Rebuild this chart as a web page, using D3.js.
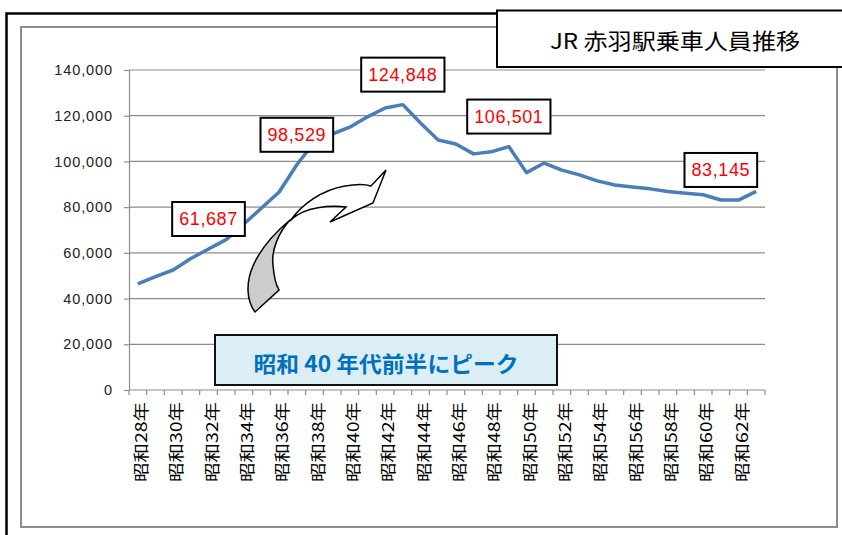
<!DOCTYPE html>
<html lang="ja">

<head>
    <meta charset="UTF-8">
    <title>JR 赤羽駅乗車人員推移</title>
    <script type="text/javascript" src="https://cdn.jsdelivr.net/npm/d3@7"></script>
    <style>
        body { margin: 0; background: #fff; }
    </style>
</head>

<body>
    <svg id="chart"></svg>
</body>

<script>
    // カテゴリ（昭和28年〜昭和63年）
    var categories = [
        "昭和28年", "昭和29年", "昭和30年", "昭和31年", "昭和32年", "昭和33年",
        "昭和34年", "昭和35年", "昭和36年", "昭和37年", "昭和38年", "昭和39年",
        "昭和40年", "昭和41年", "昭和42年", "昭和43年", "昭和44年", "昭和45年",
        "昭和46年", "昭和47年", "昭和48年", "昭和49年", "昭和50年", "昭和51年",
        "昭和52年", "昭和53年", "昭和54年", "昭和55年", "昭和56年", "昭和57年",
        "昭和58年", "昭和59年", "昭和60年", "昭和61年", "昭和62年", "昭和63年"
    ];

    // 乗車人員（1日平均）
    var riders = [
        46400, 49600, 52500, 57500, 61687, 65800,
        72600, 79600, 86600, 98529, 108500, 112000,
        115000, 119500, 123400, 124848, 116800, 109400,
        107600, 103300, 104200, 106501, 95100, 99300,
        96200, 94100, 91500, 89700, 88800, 88000,
        86800, 86100, 85400, 83145, 83100, 86900
    ];

    // 数値ラベルを付ける年
    var labeledYears = ["昭和32年", "昭和37年", "昭和43年", "昭和49年", "昭和61年"];

    // 目盛り
    var yTicks = [0, 20000, 40000, 60000, 80000, 100000, 120000, 140000];
    var xTickLabels = categories.filter(function (d, i) { return i % 2 === 0; });

    var title = "JR 赤羽駅乗車人員推移";
    var note = "昭和 40 年代前半にピーク";

    var width = 842, height = 535;
    var margin = { left: 129, right: 77, top: 70, bottom: 145 };

    var svg = d3.select("#chart")
        .attr("width", width)
        .attr("height", height)
        .style("font-family", "'Liberation Sans', Arial, sans-serif");

    // 外枠
    svg.append("rect")
        .attr("x", 6.5).attr("y", 13.5)
        .attr("width", 860).attr("height", 540)
        .attr("fill", "#fff")
        .attr("stroke", "#000").attr("stroke-width", 2.5);

    svg.append("rect")
        .attr("x", 21).attr("y", 27)
        .attr("width", 816).attr("height", 500)
        .attr("fill", "#fff")
        .attr("stroke", "#8c8c8c").attr("stroke-width", 2);

    // スケール
    var x = d3.scaleBand()
        .domain(categories)
        .range([margin.left, width - margin.right]);

    var y = d3.scaleLinear()
        .domain([0, 140000])
        .range([height - margin.bottom, margin.top]);

    var cx = function (d) { return x(d) + x.bandwidth() / 2; };

    // 目盛線
    svg.append("g")
        .selectAll("line")
        .data(yTicks.filter(function (d) { return d > 0; }))
        .enter()
        .append("line")
        .attr("x1", margin.left).attr("x2", width - margin.right)
        .attr("y1", function (d) { return y(d); })
        .attr("y2", function (d) { return y(d); })
        .attr("stroke", "#8c8c8c").attr("stroke-width", 1.2);

    // Y軸
    var yAxis = svg.append("g")
        .attr("transform", "translate(" + margin.left + ",0)")
        .call(d3.axisLeft(y).tickValues(yTicks).tickSize(5).tickPadding(11)
            .tickFormat(d3.format(",")));
    yAxis.selectAll("path, line").attr("stroke", "#8c8c8c").attr("stroke-width", 1.2);
    yAxis.selectAll("text")
        .attr("fill", "#222")
        .style("font-size", "14.5px")
        .style("letter-spacing", "0.9px")
        .style("font-family", "'Liberation Sans', Arial, sans-serif");

    // X軸（目盛りは各カテゴリの境界）
    var xBase = svg.append("g")
        .attr("transform", "translate(0," + (height - margin.bottom) + ")");
    xBase.append("line")
        .attr("x1", margin.left).attr("x2", width - margin.right)
        .attr("stroke", "#8c8c8c").attr("stroke-width", 1.2);
    xBase.selectAll(".tick")
        .data(categories.concat(["end"]))
        .enter()
        .append("line")
        .attr("class", "tick")
        .attr("x1", function (d, i) { return margin.left + i * x.bandwidth(); })
        .attr("x2", function (d, i) { return margin.left + i * x.bandwidth(); })
        .attr("y1", 0).attr("y2", 5)
        .attr("stroke", "#8c8c8c").attr("stroke-width", 1.2);

    xBase.selectAll(".xlabel")
        .data(xTickLabels)
        .enter()
        .append("text")
        .attr("class", "xlabel")
        .attr("transform", function (d) {
            return "translate(" + (cx(d) + 2) + ",52) rotate(-90)";
        })
        .attr("text-anchor", "middle")
        .attr("dominant-baseline", "central")
        .attr("textLength", 80)
        .attr("lengthAdjust", "spacingAndGlyphs")
        .style("font-family", "'Noto Sans CJK JP', sans-serif")
        .style("font-size", "16px")
        .attr("fill", "#000")
        .text(function (d) { return d; });

    // 折れ線
    var line = d3.line()
        .x(function (d, i) { return cx(categories[i]); })
        .y(function (d) { return y(d); });

    svg.append("path")
        .datum(riders)
        .attr("d", line)
        .attr("fill", "none")
        .attr("stroke", "#4a7ebb")
        .attr("stroke-width", 3.5)
        .attr("stroke-linejoin", "round");

    // 矢印（曲線ブロック矢印）
    svg.append("path")
        .attr("d", "M290,221 C302,204 322,190 345,186 C356,184 365,184 371,186 L386,170 L373,203 L330,222 L346,207 C330,205 305,207 292,219 Z")
        .attr("fill", "#fff").attr("stroke", "#000").attr("stroke-width", 1.5)
        .attr("stroke-linejoin", "miter");
    svg.append("path")
        .attr("d", "M255,312 C246,300 246,282 253,266 C260,250 272,235 290,220 C279,232 271,250 273,265 C274,278 276,285 279,290 Z")
        .attr("fill", "#cccccc").attr("stroke", "#000").attr("stroke-width", 1.5)
        .attr("stroke-linejoin", "miter");

    // 数値ラベル
    var fmt = d3.format(",");
    var labels = svg.append("g")
        .selectAll("g")
        .data(labeledYears)
        .enter()
        .append("g")
        .attr("transform", function (d) {
            return "translate(" + cx(d) + "," + (y(riders[categories.indexOf(d)]) - 30) + ")";
        });

    labels.append("text")
        .attr("text-anchor", "middle")
        .attr("dominant-baseline", "central")
        .attr("fill", "#ff0000")
        .style("font-size", "18px")
        .style("letter-spacing", "0.6px")
        .text(function (d) { return fmt(riders[categories.indexOf(d)]); });

    labels.insert("rect", "text")
        .each(function () {
            var bb = this.parentNode.querySelector("text").getBBox();
            d3.select(this)
                .attr("x", -bb.width / 2 - 7)
                .attr("y", -17)
                .attr("width", bb.width + 14)
                .attr("height", 34);
        })
        .attr("fill", "#fff")
        .attr("stroke", "#000").attr("stroke-width", 2);

    // コメント枠
    svg.append("rect")
        .attr("x", 215).attr("y", 335)
        .attr("width", 342).attr("height", 50)
        .attr("fill", "#dbeef4")
        .attr("stroke", "#111").attr("stroke-width", 2);
    svg.append("text")
        .attr("x", 386).attr("y", 362)
        .attr("text-anchor", "middle")
        .attr("dominant-baseline", "central")
        .attr("textLength", 265)
        .attr("lengthAdjust", "spacingAndGlyphs")
        .attr("fill", "#0070c0")
        .style("font-family", "'Noto Sans CJK JP', sans-serif")
        .style("font-size", "22px")
        .style("font-weight", "bold")
        .text(note);

    // タイトル枠
    svg.append("rect")
        .attr("x", 497).attr("y", 10.5)
        .attr("width", 360).attr("height", 56.5)
        .attr("fill", "#fff")
        .attr("stroke", "#000").attr("stroke-width", 2);
    svg.append("text")
        .attr("x", 675).attr("y", 39)
        .attr("text-anchor", "middle")
        .attr("dominant-baseline", "central")
        .attr("textLength", 250)
        .attr("lengthAdjust", "spacingAndGlyphs")
        .attr("fill", "#000")
        .style("font-family", "'Noto Sans CJK JP', sans-serif")
        .style("font-size", "22px")
        .text(title);
</script>

</html>
